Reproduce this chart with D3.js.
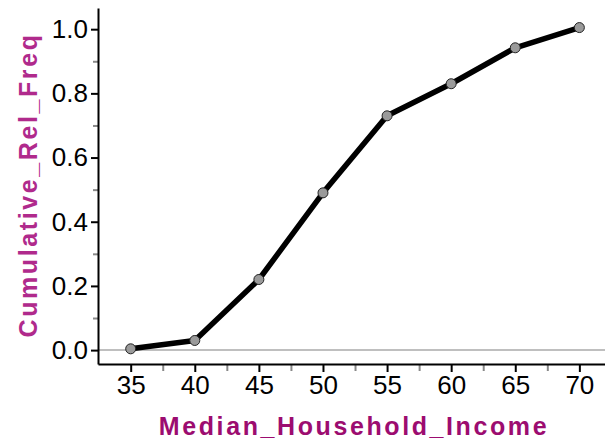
<!DOCTYPE html>
<html>
<head>
<meta charset="utf-8">
<script src="https://cdn.jsdelivr.net/npm/d3@7"></script>
<style>
  body { margin: 0; background: #fff; }
  svg { display: block; }
  .tick text { font-family: "Liberation Sans", Arial, sans-serif; font-size: 26px; fill: #000; }
</style>
</head>
<body>
<div id="chart"></div>
<script>
// Data
const incomes = [35, 40, 45, 50, 55, 60, 65, 70];
const cumRelFreq = [0.004, 0.03, 0.22, 0.49, 0.73, 0.83, 0.942, 1.005];
const xTicks = [35, 40, 45, 50, 55, 60, 65, 70];
const xMinorTicks = [37.5, 42.5, 47.5, 52.5, 57.5, 62.5, 67.5];
const yTicks = [0, 0.2, 0.4, 0.6, 0.8, 1.0];
const yMinorTicks = [0.1, 0.3, 0.5, 0.7, 0.9];

const data = incomes.map((d, i) => ({ x: d, y: cumRelFreq[i] }));

const width = 605, height = 442;
const svg = d3.select("#chart").append("svg")
  .attr("width", width)
  .attr("height", height);

// scales
const x = d3.scaleLinear().domain([32.45, 72]).range([98, 605]);
const y = d3.scaleLinear().domain([-0.0433, 1.066]).range([364, 8]);

// zero line
svg.append("line")
  .attr("x1", 98).attr("x2", 605)
  .attr("y1", y(0)).attr("y2", y(0))
  .attr("stroke", "#aaa").attr("stroke-width", 1.5);

// minor ticks
svg.append("g")
  .attr("transform", "translate(0,364)")
  .call(d3.axisBottom(x).tickValues(xMinorTicks).tickSize(7).tickFormat(""))
  .call(g => g.select(".domain").remove())
  .call(g => g.selectAll(".tick line").attr("stroke", "#888").attr("stroke-width", 2));

svg.append("g")
  .attr("transform", "translate(98,0)")
  .call(d3.axisLeft(y).tickValues(yMinorTicks).tickSize(5).tickFormat(""))
  .call(g => g.select(".domain").remove())
  .call(g => g.selectAll(".tick line").attr("stroke", "#888").attr("stroke-width", 2));

// x axis
svg.append("g")
  .attr("transform", "translate(0,364)")
  .call(d3.axisBottom(x).tickValues(xTicks).tickSize(8).tickSizeOuter(0).tickPadding(4))
  .call(g => g.select(".domain").attr("stroke", "#000").attr("stroke-width", 2))
  .call(g => g.selectAll(".tick line").attr("stroke", "#000").attr("stroke-width", 2));

// y axis
svg.append("g")
  .attr("transform", "translate(98,0)")
  .call(d3.axisLeft(y).tickValues(yTicks).tickSize(7).tickSizeOuter(0).tickPadding(3)
    .tickFormat(d3.format(".1f")))
  .call(g => g.select(".domain").attr("stroke", "#000").attr("stroke-width", 2))
  .call(g => g.selectAll(".tick line").attr("stroke", "#000").attr("stroke-width", 2));

// line
const line = d3.line().x(d => x(d.x)).y(d => y(d.y));
svg.append("path")
  .datum(data)
  .attr("fill", "none")
  .attr("stroke", "#000")
  .attr("stroke-width", 5.5)
  .attr("stroke-linejoin", "round")
  .attr("d", line);

// points
svg.selectAll(".pt")
  .data(data)
  .enter()
  .append("circle")
  .attr("class", "pt")
  .attr("cx", d => x(d.x))
  .attr("cy", d => y(d.y))
  .attr("r", 5)
  .attr("fill", "#9a9a9a")
  .attr("stroke", "#222")
  .attr("stroke-width", 1);

// axis titles
svg.append("text")
  .attr("x", 354)
  .attr("y", 435)
  .attr("text-anchor", "middle")
  .style("font-family", "Liberation Sans, Arial, sans-serif")
  .style("font-weight", "bold")
  .style("font-size", "25px")
  .style("letter-spacing", "2.6px")
  .attr("fill", "#9c0c70")
  .text("Median_Household_Income");

svg.append("text")
  .attr("transform", "translate(37,185) rotate(-90)")
  .attr("text-anchor", "middle")
  .style("font-family", "Liberation Sans, Arial, sans-serif")
  .style("font-weight", "bold")
  .style("font-size", "25px")
  .style("letter-spacing", "2.6px")
  .attr("fill", "#b02a8c")
  .text("Cumulative_Rel_Freq");
</script>
</body>
</html>
